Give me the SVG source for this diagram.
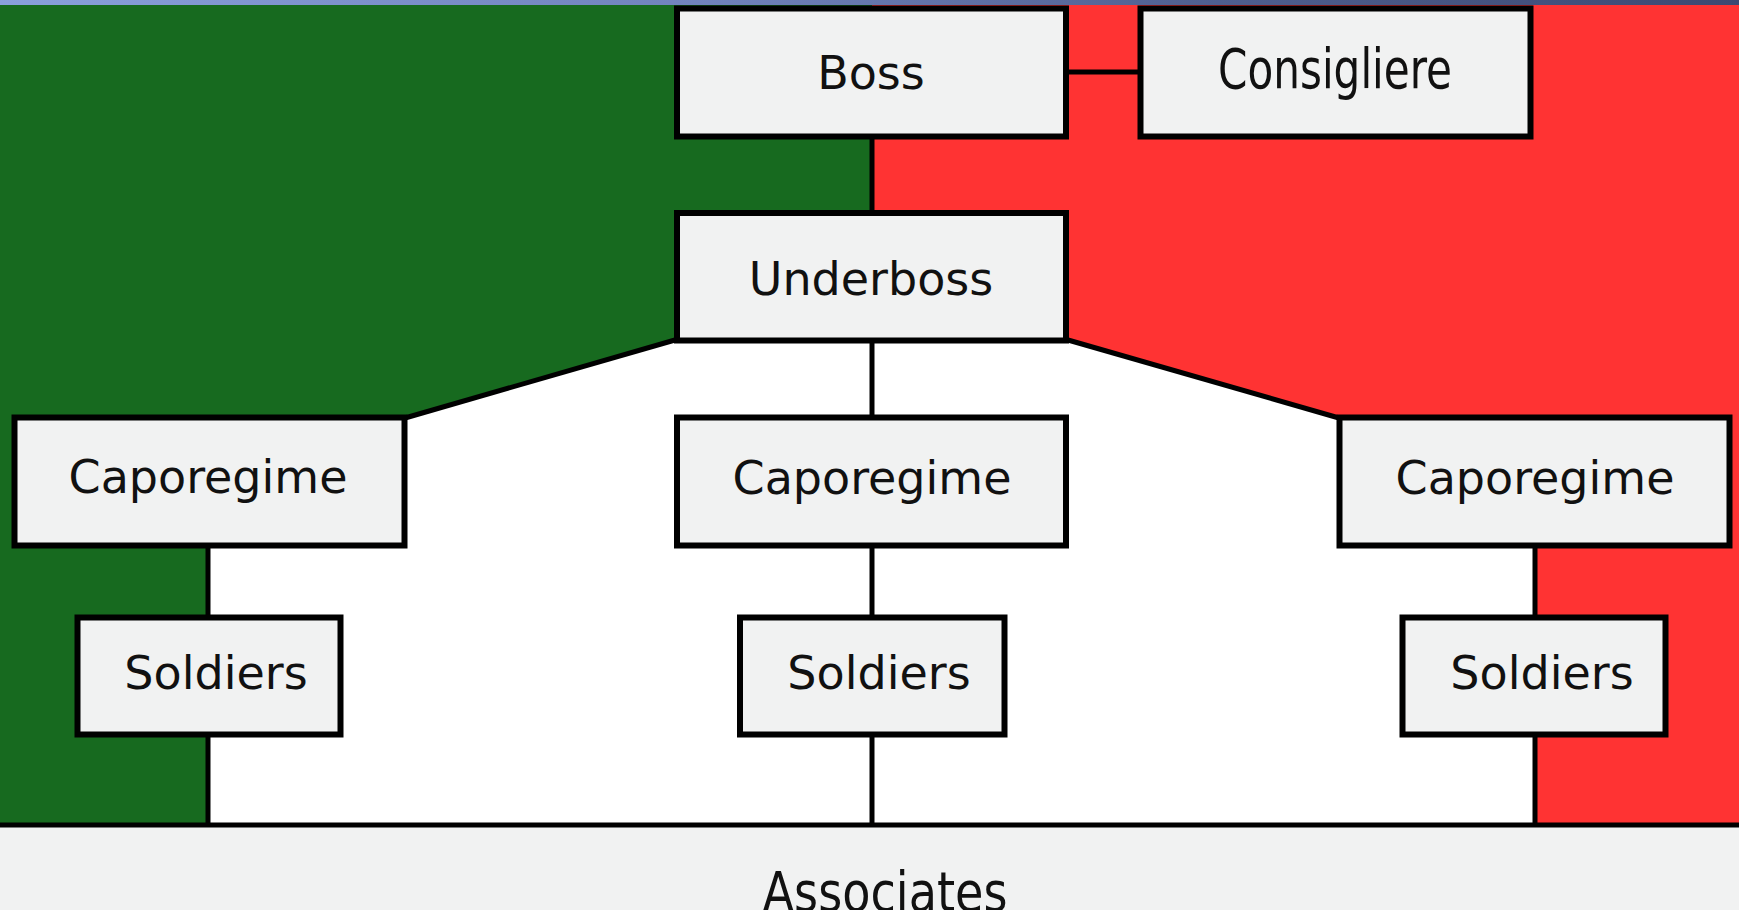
<svg xmlns="http://www.w3.org/2000/svg" width="1739" height="910" viewBox="0 0 1739 910">
<defs>
<linearGradient id="bar" x1="0" y1="0" x2="1" y2="0">
<stop offset="0" stop-color="#8aa0dc"/>
<stop offset="0.4" stop-color="#7183bd"/>
<stop offset="0.7" stop-color="#4f5f8f"/>
<stop offset="1" stop-color="#3c4972"/>
</linearGradient>
<style>
.box{fill:#f1f2f2;stroke:#000;stroke-width:6}
.lbl{font-family:"DejaVu Sans","Liberation Sans",sans-serif;font-size:46px;fill:#111;text-anchor:middle}
.cond{font-family:"DejaVu Sans Condensed","DejaVu Sans","Liberation Sans",sans-serif;font-size:55px;fill:#111;text-anchor:middle}
.ln{stroke:#000;stroke-width:5;fill:none}
</style>
</defs>
<g id="background">
<rect x="0" y="0" width="1739" height="910" fill="#ffffff"/>
<polygon points="0,5 872,5 872,340 673,340 407,417 208,417 208,825 0,825" fill="#176a1f"/>
<polygon points="872,5 1739,5 1739,825 1535,825 1535,417 1337,417 1070,340 872,340" fill="#ff3333"/>
<rect x="0" y="827" width="1739" height="83" fill="#f1f2f2"/>
<rect x="0" y="0" width="1739" height="5" fill="url(#bar)"/>
</g>
<g id="connectors">
<line class="ln" x1="1066" y1="72" x2="1140" y2="72"/>
<line class="ln" x1="872" y1="137" x2="872" y2="213"/>
<line class="ln" x1="872" y1="340" x2="872" y2="417"/>
<line class="ln" x1="675" y1="340" x2="405" y2="418"/>
<line class="ln" x1="1068" y1="340" x2="1339" y2="418"/>
<line class="ln" x1="208" y1="545" x2="208" y2="617"/>
<line class="ln" x1="208" y1="734" x2="208" y2="825"/>
<line class="ln" x1="872" y1="545" x2="872" y2="617"/>
<line class="ln" x1="872" y1="734" x2="872" y2="825"/>
<line class="ln" x1="1535" y1="545" x2="1535" y2="617"/>
<line class="ln" x1="1535" y1="734" x2="1535" y2="825"/>
<line class="ln" x1="0" y1="825" x2="1739" y2="825"/>
</g>
<g id="boss">
<rect class="box" x="677" y="8.5" width="389" height="128"/>
<text class="lbl" x="871" y="89">Boss</text>
</g>
<g id="consigliere">
<rect class="box" x="1140.5" y="8.5" width="390" height="128"/>
<text class="cond" x="1335" y="88" textLength="234" lengthAdjust="spacingAndGlyphs">Consigliere</text>
</g>
<g id="underboss">
<rect class="box" x="677" y="213" width="389" height="127.5"/>
<text class="lbl" x="871" y="295">Underboss</text>
</g>
<g id="caporegime-left">
<rect class="box" x="14.5" y="417.5" width="390" height="128"/>
<text class="lbl" x="208" y="493">Caporegime</text>
</g>
<g id="caporegime-center">
<rect class="box" x="677" y="417.5" width="389" height="128"/>
<text class="lbl" x="872" y="494">Caporegime</text>
</g>
<g id="caporegime-right">
<rect class="box" x="1339.5" y="417.5" width="390" height="128"/>
<text class="lbl" x="1535" y="494">Caporegime</text>
</g>
<g id="soldiers-left">
<rect class="box" x="77.5" y="617.5" width="263" height="117"/>
<text class="lbl" x="216" y="689">Soldiers</text>
</g>
<g id="soldiers-center">
<rect class="box" x="740" y="617.5" width="264.5" height="117"/>
<text class="lbl" x="879" y="689">Soldiers</text>
</g>
<g id="soldiers-right">
<rect class="box" x="1402.5" y="617.5" width="263" height="117"/>
<text class="lbl" x="1542" y="689">Soldiers</text>
</g>
<g id="associates">
<text class="cond" x="885" y="911" textLength="245" lengthAdjust="spacingAndGlyphs">Associates</text>
</g>
</svg>
